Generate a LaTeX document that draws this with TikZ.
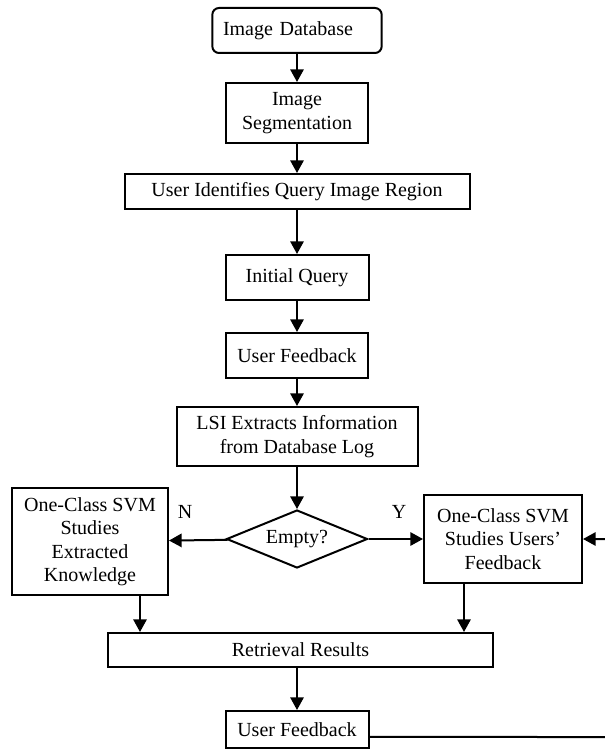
\documentclass[tikz,border=0pt]{standalone}
\usepackage{fontspec}
\setmainfont{Liberation Serif}
\usepackage{tikz}
\usetikzlibrary{arrows.meta,shapes.geometric}

\begin{document}
\begin{tikzpicture}[x=0.75pt,y=-0.75pt]
\tikzstyle{every node}+=[inner sep=0pt, font=\fontsize{15}{17.6}\selectfont]
\tikzstyle{box}=[draw, black, line width=1.5pt, align=center]
\tikzstyle{arr}=[black, line width=1.5pt, -{Triangle[length=9.5pt,width=10pt]}]
\useasboundingbox (0,0) rectangle (605,749);
% main column
\node [box, rounded corners=5pt, text width=111pt, align=left, inner xsep=8pt, minimum height=33.75pt] (db) at (297,30.5) {Image Database};
\node [box, minimum width=106.5pt, minimum height=45pt] (seg) at (297,113) {Image\\Segmentation};
\node [box, minimum width=258.75pt, minimum height=26.25pt] (uiq) at (297,191.5) {User Identifies Query Image Region};
\node [box, minimum width=107.25pt, minimum height=33.75pt] (iq) at (297,277.5) {Initial Query};
\node [box, minimum width=106.5pt, minimum height=33.75pt] (uf1) at (297,355.5) {User Feedback};
\node [box, minimum width=180.75pt, minimum height=44.25pt] (lsi) at (297,436.5) {LSI Extracts Information\\from Database Log};
\node [box, diamond, aspect=2.4, minimum width=105.75pt, minimum height=43.5pt] (dia) at (297,539) {Empty?};
% the two svm boxes
\node [box, minimum width=117pt, minimum height=80.25pt] (left) at (90,541.5) {One-Class SVM\\Studies\\Extracted\\Knowledge};
\node [box, minimum width=118.5pt, minimum height=66pt] (right) at (503,539) {One-Class SVM\\Studies Users'\\Feedback};
\node [box, minimum width=288.75pt, minimum height=25.5pt] (ret) at (300.5,650) {Retrieval Results};
\node [box, minimum width=107.25pt, minimum height=27.75pt] (uf2) at (297,729.5) {User Feedback};
\node (n) at (185,512) {N};
\node (y) at (399,512) {Y};
\coordinate (loop) at (608,737);
% arrows
\draw [arr] (db) -- (seg);
\draw [arr] (seg) -- (uiq);
\draw [arr] (uiq) -- (iq);
\draw [arr] (iq) -- (uf1);
\draw [arr] (uf1) -- (lsi);
\draw [arr] (lsi) -- (dia);
\draw [arr] (dia) -- (left);%N
\draw [arr] (dia) -- (right);%Y
\draw [arr] ([xshift=37.5pt]left.south) -- ([xshift=37.5pt]left.south |- ret.north);
\draw [arr] ([xshift=-29.25pt]right.south) -- ([xshift=-29.25pt]right.south |- ret.north);
\draw [arr] (ret.south -| uf2.north) -- (uf2);
\draw [arr] ([yshift=-5.6pt]uf2.east) -- (loop) |- (right.east);%feedback loop
\end{tikzpicture}
\end{document}
